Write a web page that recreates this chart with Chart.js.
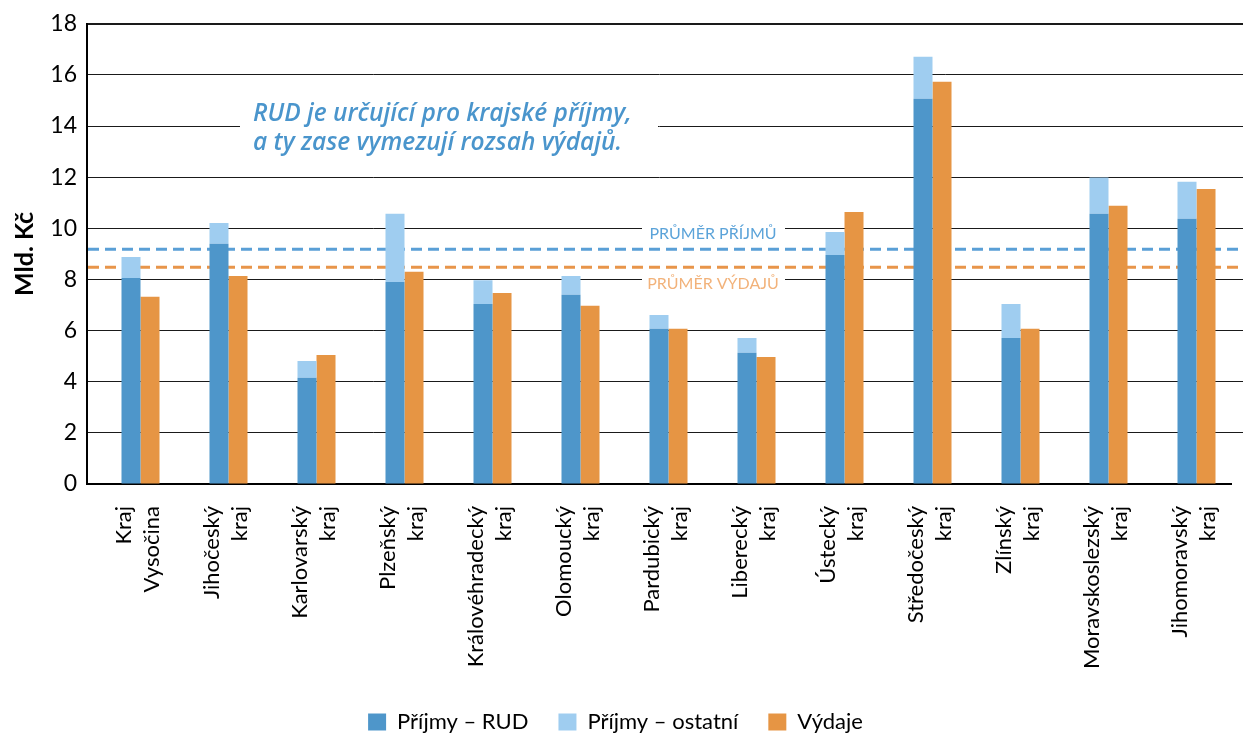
<!DOCTYPE html>
<html>
<head>
<meta charset="utf-8">
<script src="https://cdn.jsdelivr.net/npm/chart.js@4.4.1/dist/chart.umd.min.js"></script>
<style>
    html, body { margin: 0; padding: 0; background: #ffffff; }
    #wrap { width: 1243px; height: 736px; }
</style>
</head>
<body>
<div id="wrap"><canvas id="krajeChart" width="1243" height="736"></canvas></div>
<script>
/*
    Data (mld. Kč).
*/
const kraje = [
    ["Kraj", "Vysočina"], ["Jihočeský", "kraj"], ["Karlovarský", "kraj"], ["Plzeňský", "kraj"],
    ["Královéhradecký", "kraj"], ["Olomoucký", "kraj"], ["Pardubický", "kraj"], ["Liberecký", "kraj"],
    ["Ústecký", "kraj"], ["Středočeský", "kraj"], ["Zlínský", "kraj"], ["Moravskoslezský", "kraj"],
    ["Jihomoravský", "kraj"]
];
const prijmyRud = [8.06, 9.40, 4.16, 7.90, 7.04, 7.40, 6.07, 5.13, 8.96, 15.07, 5.71, 10.57, 10.37];
const prijmyOstatni = [0.82, 0.81, 0.65, 2.67, 0.93, 0.74, 0.54, 0.58, 0.90, 1.64, 1.33, 1.42, 1.45];
const vydaje = [7.32, 8.14, 5.05, 8.30, 7.47, 6.97, 6.07, 4.97, 10.64, 15.73, 6.07, 10.88, 11.54];
const yTicks = [0, 2, 4, 6, 8, 10, 12, 14, 16, 18];
const prumerPrijmu = 9.18;
const prumerVydaju = 8.48;
const poznamka = ["RUD je určující pro krajské příjmy,", "a ty zase vymezují rozsah výdajů."];

const BLUE = '#4e96ca';
const LIGHT_BLUE = '#9fcdf0';
const ORANGE = '#e69544';

/*
    Plugin for the averages, annotation text and the white boxes that break the grid lines.
*/
const dekorace = {
    id: 'dekorace',
    beforeDatasetsDraw(chart) {
        const { ctx, chartArea, scales: { y } } = chart;
        ctx.save();

        // grid lines run on to the right edge of the picture (same pixel alignment as Chart.js)
        ctx.strokeStyle = '#1a1a1a';
        y.ticks.forEach((t) => {
            if (t.value === 0) return;
            const lw = t.value === 18 ? 2 : 1;
            const py = Math.round(y.getPixelForValue(t.value) - lw / 2) + lw / 2;
            ctx.lineWidth = lw;
            ctx.beginPath();
            ctx.moveTo(chartArea.right - 2, py);
            ctx.lineTo(chart.width, py);
            ctx.stroke();
        });

        // white boxes behind the texts
        ctx.fillStyle = '#ffffff';
        const y14 = y.getPixelForValue(14);
        ctx.fillRect(240, y14 - 30, 418, 62);
        const y10 = y.getPixelForValue(10);
        const y8 = y.getPixelForValue(8);
        ctx.fillRect(642, y10 - 8, 143, 18);
        ctx.fillRect(642, y8 - 8, 143, 18);

        // average lines
        ctx.lineWidth = 3;
        ctx.setLineDash([11, 6]);
        const yp = y.getPixelForValue(prumerPrijmu);
        ctx.strokeStyle = '#5a9fd6';
        ctx.beginPath();
        ctx.moveTo(chartArea.left + 1, yp);
        ctx.lineTo(1238, yp);
        ctx.stroke();
        const yv = y.getPixelForValue(prumerVydaju);
        ctx.strokeStyle = '#e8954a';
        ctx.beginPath();
        ctx.moveTo(chartArea.left + 1, yv);
        ctx.lineTo(1238, yv);
        ctx.stroke();
        ctx.setLineDash([]);

        // texts
        ctx.textBaseline = 'alphabetic';
        ctx.textAlign = 'center';
        ctx.font = '16px Lato';
        ctx.fillStyle = '#5ba3d9';
        ctx.fillText('PRŮMĚR PŘÍJMŮ', 713, yp - 10);
        ctx.fillStyle = '#f2b27a';
        ctx.fillText('PRŮMĚR VÝDAJŮ', 713, yv + 22);

        ctx.textAlign = 'left';
        ctx.font = 'italic 600 24.5px "Open Sans"';
        ctx.fillStyle = '#4a95cc';
        ctx.fillText(poznamka[0], 253, y14 - 5);
        ctx.fillText(poznamka[1], 253, y14 + 24);
        ctx.restore();
    }
};

function displayChart() {
    const ctx = document.getElementById('krajeChart').getContext('2d');
    new Chart(ctx, {
        type: 'bar',
        data: {
            labels: kraje,
            datasets: [
                // empty stack, keeps the bar pair right of the category centre like the original
                { label: '', data: kraje.map(() => 0), backgroundColor: 'rgba(0,0,0,0)', stack: 'x' },
                { label: 'Příjmy – RUD', data: prijmyRud, backgroundColor: BLUE, stack: 'prijmy' },
                { label: 'Příjmy – ostatní', data: prijmyOstatni, backgroundColor: LIGHT_BLUE, stack: 'prijmy' },
                { label: 'Výdaje', data: vydaje, backgroundColor: ORANGE, stack: 'vydaje' }
            ]
        },
        options: {
            responsive: false,
            animation: false,
            devicePixelRatio: 1,
            layout: { padding: { top: 22, right: 12, left: 0, bottom: -7 } },
            datasets: { bar: { barPercentage: 1, categoryPercentage: 0.648, borderWidth: 0 } },
            scales: {
                x: {
                    stacked: true,
                    grid: { display: false },
                    border: { color: '#000000', width: 2 },
                    ticks: {
                        color: '#000000',
                        font: { family: 'Lato', size: 22, lineHeight: 1.25 },
                        minRotation: 90,
                        maxRotation: 90,
                        labelOffset: -7,
                        padding: 14,
                        autoSkip: false
                    },
                    afterFit(scale) {
                        scale.height = 197;
                        scale.paddingLeft = 0;
                        scale.paddingRight = 0;
                    }
                },
                y: {
                    stacked: true,
                    min: 0,
                    max: 18,
                    afterBuildTicks(scale) { scale.ticks = yTicks.map((v) => ({ value: v })); },
                    grid: {
                        color: '#1a1a1a',
                        lineWidth: (c) => (c.tick && c.tick.value === 18 ? 2 : 1),
                        drawTicks: false
                    },
                    border: { color: '#000000', width: 2 },
                    ticks: {
                        color: '#000000',
                        font: { family: 'Lato', size: 23 },
                        padding: 10
                    },
                    title: {
                        display: true,
                        text: 'Mld. Kč',
                        color: '#000000',
                        font: { family: 'Lato', size: 25, weight: 'bold' },
                        padding: { top: 10, bottom: 0 }
                    },
                    afterFit(scale) { scale.width = 87; }
                }
            },
            plugins: {
                legend: {
                    position: 'bottom',
                    labels: {
                        color: '#000000',
                        font: { family: 'Lato', size: 22 },
                        boxWidth: 18,
                        boxHeight: 17,
                        padding: 30,
                        filter: (item) => item.text !== ''
                    }
                },
                tooltip: { enabled: false }
            }
        },
        plugins: [dekorace]
    });
}

displayChart();
</script>
</body>
</html>
